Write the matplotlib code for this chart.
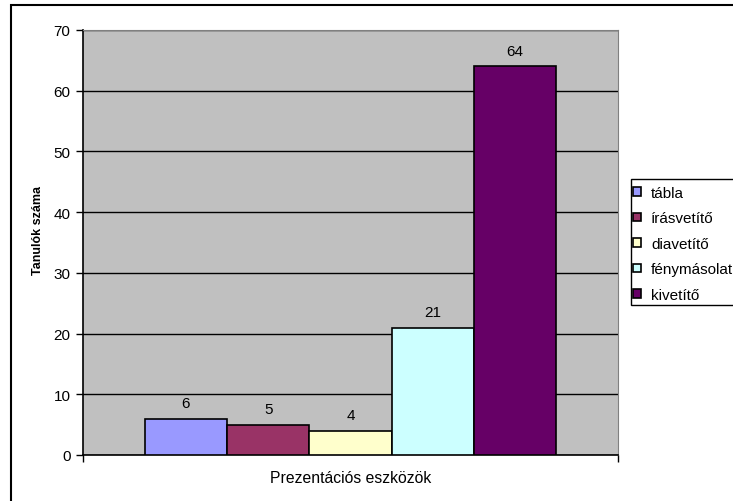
import matplotlib.pyplot as plt
from matplotlib.patches import Rectangle
import numpy as np

plt.rcParams['font.family'] = ['Liberation Sans', 'DejaVu Sans']

# eszközök és a tanulók száma
eszkozok = ["tábla", "írásvetítő", "diavetítő", "fénymásolat", "kivetítő"]
tanulok = [6, 5, 4, 21, 64]
szinek = ["#9999FF", "#993366", "#FFFFCC", "#CCFFFF", "#660066"]

fig = plt.figure(figsize=(7.33, 5.02), dpi=100)
ax = fig.add_axes([83/733, 1-456/502, 535/733, 425/502])
ax.set_facecolor("#C0C0C0")

# egy kategória, egymás melletti oszlopok
poz = np.arange(len(tanulok)) - 2
for p, v, nev, szin in zip(poz, tanulok, eszkozok, szinek):
    ax.bar(p, v, width=1.0, color=szin, edgecolor="black", linewidth=1.2, label=nev, zorder=3)
    ax.annotate(str(v), (p, v), xytext=(0, 8.5), textcoords="offset points",
                ha="center", va="baseline", fontsize=11)

ax.set_xlim(-3.25, 3.25)
ax.set_ylim(0, 70)
ax.set_yticks(range(0, 71, 10))
ax.set_xticks([-3.25, 3.25])
ax.set_xticklabels([])
ax.tick_params(axis="both", direction="out", length=5, width=1, labelsize=11, colors="black", pad=4)
ax.yaxis.grid(True, color="black", linewidth=1, zorder=1)
ax.set_axisbelow(True)

for s in ["top", "right"]:
    ax.spines[s].set_color("#808080")
for s in ["left", "bottom"]:
    ax.spines[s].set_color("black")
    ax.spines[s].set_linewidth(1.2)

ax.set_ylabel("Tanulók száma", fontsize=9, fontweight="bold")
ax.yaxis.set_label_coords(-0.073, 0.531)
ax.set_xlabel("Prezentációs eszközök", fontsize=11.3, labelpad=2)

# jelmagyarázat kerete külön, a jobb szélen túlnyúlik
fig.patches.append(Rectangle((631/733, 1-306/502), 0.3, 126/502, transform=fig.transFigure,
                             fill=True, facecolor="white", edgecolor="black", linewidth=1))
leg = fig.legend(loc="upper left", bbox_to_anchor=(633/733, 1-187/502), fontsize=11,
                 frameon=False, handlelength=0.5, handleheight=0.5, handletextpad=0.68,
                 labelspacing=0.75, borderpad=0, borderaxespad=0)

# külső keret a diagram körül
fig.patches.append(Rectangle((11/733, -0.05), 1.1, 1-6/502+0.05, transform=fig.transFigure,
                             fill=False, edgecolor="black", linewidth=1.5))

fig.savefig("out.png", dpi=100)
